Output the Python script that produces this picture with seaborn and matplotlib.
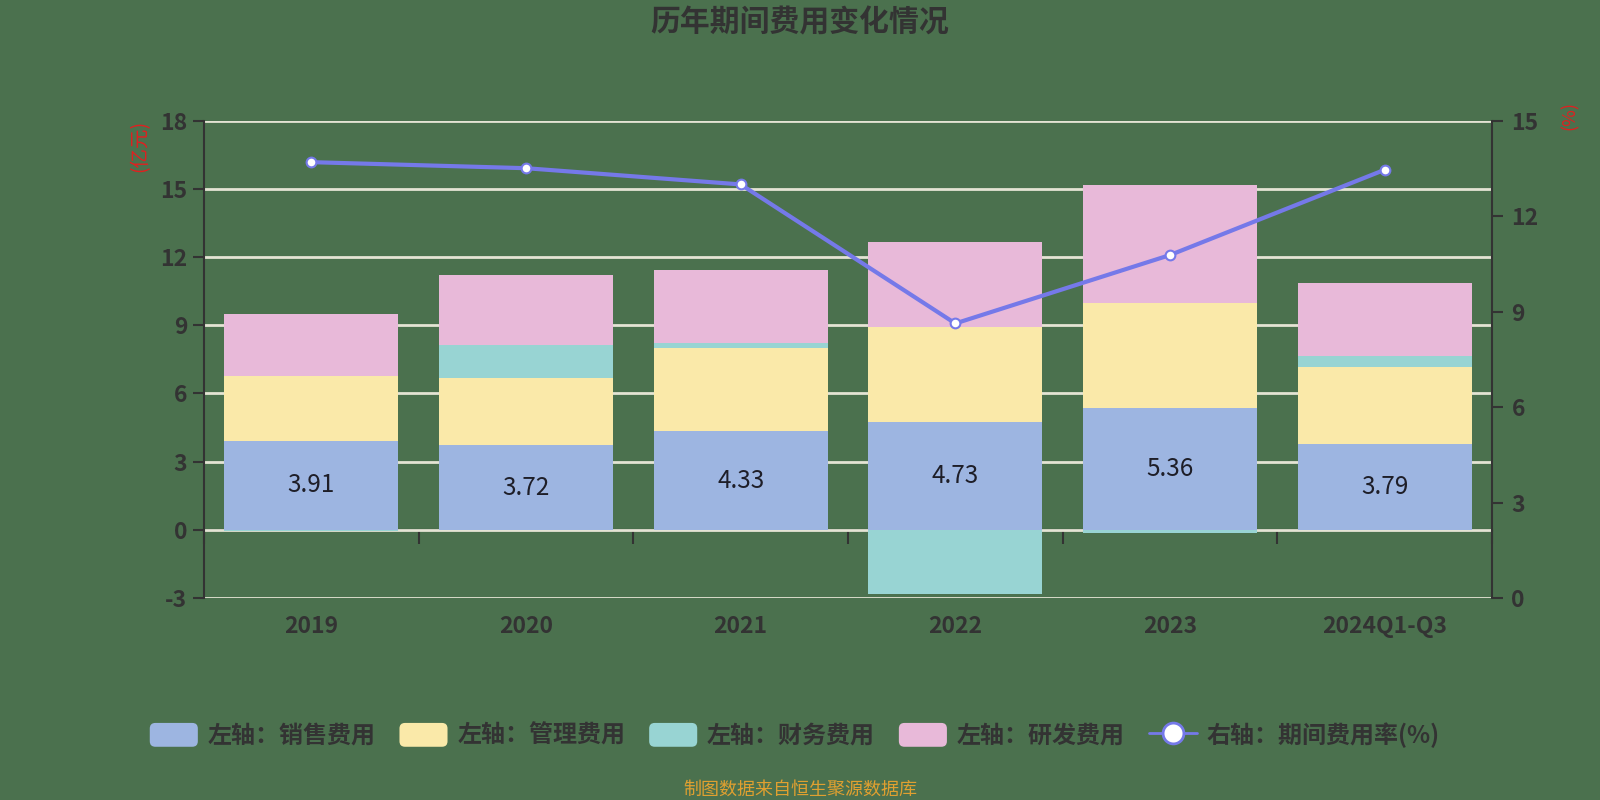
import numpy as np
import pandas as pd
import matplotlib
matplotlib.use("Agg")
import matplotlib.pyplot as plt
from matplotlib.patches import Patch, FancyBboxPatch
from matplotlib.lines import Line2D
from matplotlib.legend_handler import HandlerPatch
import seaborn as sns

# data (亿元 / %)
years = ["2019", "2020", "2021", "2022", "2023", "2024Q1-Q3"]
sales = [3.91, 3.72, 4.33, 4.73, 5.36, 3.79]
admin = [2.85, 2.94, 3.68, 4.19, 4.61, 3.36]
finance = [-0.05, 1.47, 0.19, -2.84, -0.12, 0.49]
rnd = [2.75, 3.10, 3.22, 3.74, 5.20, 3.21]
rate = [13.70, 13.51, 13.00, 8.63, 10.78, 13.46]

series_names = ["左轴：销售费用", "左轴：管理费用", "左轴：财务费用", "左轴：研发费用"]
rate_name = "右轴：期间费用率(%)"

# colours
bg = "#4B714E"
dark = "#333333"
c_sales, c_admin, c_fin, c_rnd = "#9DB5E1", "#FAE9A9", "#98D4D3", "#E8B9D9"
c_line = "#7579E9"

sns.set_style("white")
plt.rcParams["font.family"] = ["Noto Sans CJK SC", "DejaVu Sans"]
plt.rcParams["axes.unicode_minus"] = False


class RoundBox(HandlerPatch):
    def create_artists(self, legend, orig_handle, xdescent, ydescent,
                       width, height, fontsize, trans):
        p = FancyBboxPatch((-xdescent, -ydescent), width, height,
                           boxstyle="round,pad=0,rounding_size=4",
                           facecolor=orig_handle.get_facecolor(),
                           edgecolor="none", transform=trans)
        return [p]


# stacked levels (positives up from 0, negatives down from 0)
df = pd.DataFrame({"year": years, "sales": sales, "admin": admin,
                   "finance": finance, "rnd": rnd})
df["fin_pos"] = df["finance"].clip(lower=0)
df["fin_neg"] = df["finance"].clip(upper=0)
df["lvl1"] = df["sales"]
df["lvl2"] = df["lvl1"] + df["admin"]
df["lvl3"] = df["lvl2"] + df["fin_pos"]
df["lvl4"] = df["lvl3"] + df["rnd"]

fig = plt.figure(figsize=(16, 8), dpi=100, facecolor=bg)
ax = fig.add_axes([0.1275, 0.2525, 0.805, 0.5965])
ax.set_facecolor(bg)

bar_w = 0.81
for col, c in [("lvl4", c_rnd), ("lvl3", c_fin), ("lvl2", c_admin), ("lvl1", c_sales)]:
    sns.barplot(data=df, x="year", y=col, color=c, saturation=1, width=bar_w,
                errorbar=None, ax=ax, zorder=2, linewidth=0)
sns.barplot(data=df, x="year", y="fin_neg", color=c_fin, saturation=1, width=bar_w,
            errorbar=None, ax=ax, zorder=2, linewidth=0)

# value labels inside the sales segment
ax.bar_label(ax.containers[3], labels=[f"{v:.2f}" for v in sales],
             label_type="center", fontsize=17.5, color="#1E1E28")

ymin, ymax = -3, 18
ax.set_ylim(ymin, ymax)
ax.set_xlim(-0.5, len(years) - 0.5)
ax.set_yticks(range(-3, 19, 3))
ax.set_xlabel("")
ax.set_ylabel("")
ax.grid(axis="y", color="#E4E4D4", lw=2)
ax.grid(axis="x", visible=False)
ax.set_axisbelow(True)

ax.tick_params(axis="y", length=8, width=1.5, color=dark, labelsize=16.5,
               labelcolor=dark, pad=4)
ax.tick_params(axis="x", length=0, labelsize=16.5, labelcolor=dark, pad=12)
for lab in ax.get_yticklabels() + ax.get_xticklabels():
    lab.set_fontweight("bold")
for s in ["top", "right", "bottom"]:
    ax.spines[s].set_visible(False)
ax.spines["left"].set_color(dark)
ax.spines["left"].set_linewidth(1.5)

# zero line with category-boundary ticks
sec = ax.secondary_xaxis((0 - ymin) / (ymax - ymin))
sec.set_xticks(np.arange(len(years) + 1) - 0.5)
sec.set_xticklabels([])
sec.tick_params(axis="x", direction="out", length=10, width=1.5, color=dark)
sec.spines["bottom"].set_color(dark)
sec.spines["bottom"].set_linewidth(1.5)

# right axis: period expense rate
ax2 = ax.twinx()
ax2.patch.set_visible(False)
sns.lineplot(x=np.arange(len(years)), y=rate, ax=ax2, color=c_line, lw=3,
             marker="o", markersize=7, markerfacecolor="white",
             markeredgecolor=c_line, markeredgewidth=1.5, zorder=5)
ax2.set_ylim(0, 15)
ax2.set_yticks(range(0, 16, 3))
ax2.tick_params(axis="y", length=8, width=1.5, color=dark, labelsize=16.5,
                labelcolor=dark, pad=6)
for lab in ax2.get_yticklabels():
    lab.set_fontweight("bold")
for s in ["top", "left", "bottom"]:
    ax2.spines[s].set_visible(False)
ax2.spines["right"].set_color(dark)
ax2.spines["right"].set_linewidth(1.5)
ax2.grid(False)

# texts
fig.text(0.5, 0.972, "历年期间费用变化情况", fontsize=21.5, fontweight="bold",
         color=dark, ha="center", va="center")
fig.text(0.0875, 0.8175, "(亿元)", rotation=90, color="#E02020", fontsize=14,
         ha="center", va="center")
fig.text(0.981, 0.856, "(%)", rotation=90, color="#E02020", fontsize=13,
         ha="center", va="center")
fig.text(0.5, 0.013, "制图数据来自恒生聚源数据库", color="#E0A030", fontsize=13,
         ha="center", va="center")

# legend
handles = [Patch(facecolor=c, edgecolor="none") for c in [c_sales, c_admin, c_fin, c_rnd]]
handles.append(Line2D([0], [0], color=c_line, lw=2, marker="o", markersize=15,
                      markerfacecolor="white", markeredgecolor=c_line, markeredgewidth=2))
leg = fig.legend(handles, series_names + [rate_name], loc="center",
                 bbox_to_anchor=(0.4966, 0.081), ncol=5, frameon=False,
                 fontsize=17.3, handlelength=2.0, handleheight=1.15,
                 columnspacing=1.0, handletextpad=0.4,
                 handler_map={Patch: RoundBox()})
for t in leg.get_texts():
    t.set_color(dark)
    t.set_fontweight("bold")

fig.savefig("out.png", dpi=100, facecolor=bg)
